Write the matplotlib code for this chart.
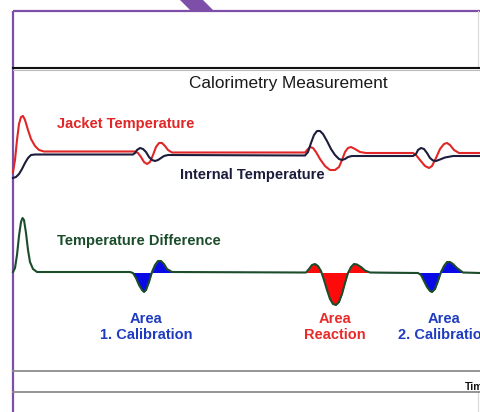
import numpy as np
import matplotlib.pyplot as plt
from matplotlib.patches import Polygon

plt.rcParams['font.family'] = ['Liberation Sans', 'DejaVu Sans']

# Curve data (x, y in picture pixels, y grows downward)
jacket_x = [13, 15, 17, 19, 21, 23, 25, 28, 31, 35, 39, 44, 135, 138, 141, 144, 147, 150,
            153, 156, 159, 162, 165, 168, 172, 305, 308, 310, 313, 316, 320, 325, 330, 335,
            339, 342, 345, 348, 351, 355, 360, 366, 413, 416, 420, 425, 429, 432, 436, 440,
            444, 447, 450, 454, 459, 480]
jacket_y = [172, 160, 140, 124, 117, 116, 120, 130, 139, 146, 150, 151.5, 151.5, 153, 157,
            162, 164, 162, 155, 147, 143, 143, 146, 150, 152.5, 152.5, 149, 147, 148, 152, 159,
            166, 170, 170, 167, 160, 152, 148, 147, 149, 152, 153, 153, 155, 160, 166, 168, 166,
            158, 149, 144, 143, 145, 150, 153, 153]

internal_x = [13, 16, 19, 22, 25, 28, 31, 35, 133, 135, 137, 140, 143, 146, 149, 152, 155,
              158, 161, 164, 168, 305, 308, 311, 314, 317, 320, 323, 327, 331, 335, 339, 342,
              345, 348, 352, 413, 416, 418, 421, 424, 427, 430, 433, 436, 440, 445, 453, 480]
internal_y = [178, 177, 174, 169, 163, 158, 155, 154.5, 154.5, 153, 150, 148, 149, 152, 157,
              160, 161, 160, 158, 156, 155, 155.5, 152, 143, 135, 131, 131, 134, 141, 149, 155,
              159, 160, 159, 157, 156, 156, 154, 150, 148, 149, 153, 158, 160.5, 161, 159.5,
              157.5, 156, 156]

diff_x = [13, 15, 17, 19, 21, 22.5, 24, 26, 28, 30, 33, 37, 130, 133, 136, 139, 142, 144,
          146, 149, 152, 155, 158, 161, 164, 167, 172, 306, 309, 312, 315, 318, 321, 324, 327,
          330, 333, 336, 339, 342, 345, 348, 351, 354, 357, 361, 365, 370, 418, 421, 424, 427,
          430, 432, 435, 438, 441, 444, 447, 450, 453, 457, 463, 480]
diff_y = [272, 268, 255, 236, 222, 218, 220, 233, 250, 262, 269, 272, 272, 273, 278, 285,
          290, 292, 290, 282, 272, 265, 261, 261, 264, 269, 272, 272.5, 269, 265, 264, 266,
          271, 280, 290, 299, 304, 305, 302, 294, 283, 273, 267, 264, 264.5, 267, 270.5, 272.5,
          273, 275, 281, 287, 291, 292, 289, 281, 272, 266, 262, 262, 264, 268, 272.5, 273]
diff_base = 272.5

# shaded areas: (start, end, colour)
areas = [(130, 172, '#0a0ae6'), (306, 370, '#ff0a0a'), (418, 463, '#0a0ae6')]

labels = [
    ('Jacket Temperature', 57, 124, '#e02626', 'left'),
    ('Internal Temperature', 180, 175, '#1c1c3c', 'left'),
    ('Temperature Difference', 57, 241, '#1b4d2b', 'left'),
    ('Area\n1. Calibration', 146, 327, '#1f3cbf', 'center'),
    ('Area\nReaction', 335, 327, '#e82a2a', 'center'),
    ('Area\n2. Calibration', 444, 327, '#1f3cbf', 'center'),
]

fig = plt.figure(figsize=(4.8, 4.12), dpi=100)
ax = fig.add_axes([0, 0, 1, 1])
ax.set_xlim(0, 480)
ax.set_ylim(412, 0)
ax.axis('off')

# frame
purple = '#7d4fa8'
ax.plot([12.5, 12.5], [10.5, 412], color=purple, lw=1.6, solid_capstyle='butt')
ax.plot([12.5, 480], [10.5, 10.5], color=purple, lw=1.6, solid_capstyle='butt')
ax.add_patch(Polygon([(180, 0), (203, 0), (213, 10), (190, 10)], closed=True,
                     color=purple, lw=0))
ax.plot([478, 478], [11, 67], color='#d8d8d8', lw=0.8)
ax.plot([478, 478], [392, 412], color='#d8d8d8', lw=0.8)
ax.plot([13, 480], [67.5, 67.5], color='#111111', lw=1.5)
ax.plot([13, 480], [69.5, 69.5], color='#bbbbbb', lw=0.8)
ax.plot([13, 480], [371, 371], color='#8c8c8c', lw=1.3)
ax.plot([13, 480], [392, 392], color='#8c8c8c', lw=1.3)

ax.text(288, 83, 'Calorimetry Measurement', fontsize=12.4, ha='center', va='center',
        color='#1a1a1a')
ax.text(465, 387, 'Time', fontsize=7.5, fontweight='bold', ha='left', va='center',
        color='#111111')

# curves
ax.plot(jacket_x, jacket_y, color='#e02626', lw=1.5)
ax.plot(internal_x, internal_y, color='#1c1c3c', lw=1.5)

dx = np.array(diff_x, dtype=float)
dy = np.array(diff_y, dtype=float)
for x0, x1, c in areas:
    m = (dx >= x0) & (dx <= x1)
    ax.fill_between(dx, dy, diff_base, where=m, interpolate=True, color=c, lw=0)
ax.plot(dx, dy, color='#1b4d2b', lw=1.5)

for txt, x, y, c, ha in labels:
    ax.text(x, y, txt, fontsize=10.5, fontweight='bold', color=c, ha=ha, va='center',
            linespacing=1.1)

fig.savefig('out.png', dpi=100)
